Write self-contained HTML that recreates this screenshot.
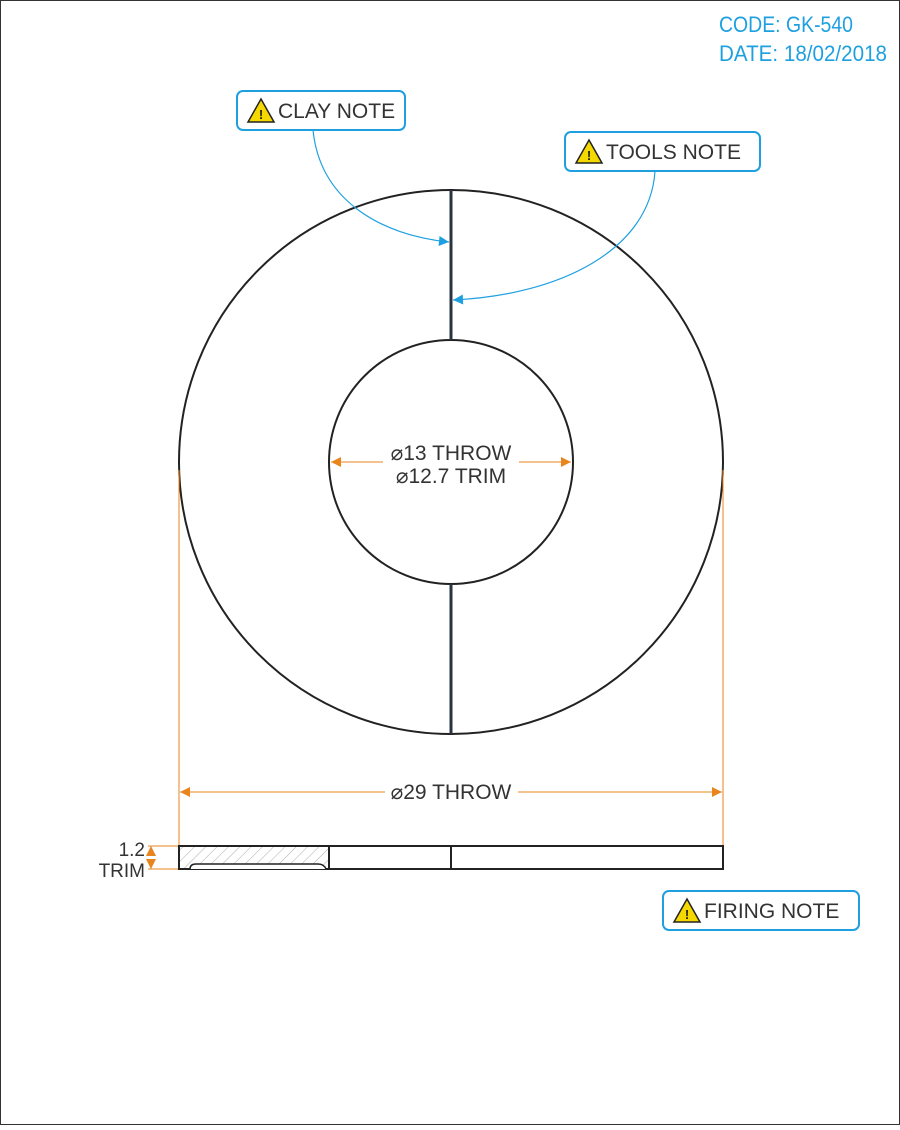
<!DOCTYPE html>
<html><head><meta charset="utf-8"><style>
body{margin:0;background:#fff}
svg text{font-family:"Liberation Sans Narrow","Liberation Sans",sans-serif}
</style></head><body>
<svg width="900" height="1125" viewBox="0 0 900 1125">
<defs>
<marker id="ob" viewBox="0 0 10 10" refX="10" refY="5" markerWidth="13" markerHeight="10" markerUnits="userSpaceOnUse" orient="auto"><path d="M0,0L10,5L0,10z" fill="#e8851c"/></marker>
<marker id="bb" viewBox="0 0 10 10" refX="10" refY="5" markerWidth="13" markerHeight="10" markerUnits="userSpaceOnUse" orient="auto"><path d="M0,0L10,5L0,10z" fill="#1ea0e0"/></marker>
<pattern id="hatch" width="8" height="8" patternUnits="userSpaceOnUse" patternTransform="rotate(45)"><line x1="0" y1="0" x2="0" y2="8" stroke="#999" stroke-width="0.8"/></pattern>
</defs>
<rect x="0.5" y="0.5" width="899" height="1124" fill="#fff" stroke="#333"/>
<g fill="#1ea0e0" font-size="22">
<text x="719" y="32" textLength="134" lengthAdjust="spacingAndGlyphs">CODE: GK-540</text>
<text x="719" y="61" textLength="168" lengthAdjust="spacingAndGlyphs">DATE: 18/02/2018</text>
</g>
<g>
<circle cx="451" cy="462" r="272" fill="none" stroke="#222" stroke-width="2"/>
<circle cx="451" cy="462" r="122" fill="none" stroke="#222" stroke-width="2"/>
<line x1="451" y1="190" x2="451" y2="340" stroke="#2a3440" stroke-width="3"/>
<line x1="451" y1="584" x2="451" y2="734" stroke="#2a3440" stroke-width="3"/>
</g>
<g stroke="#e8851c" stroke-width="1" fill="none">
<line x1="383" y1="462" x2="331" y2="462" marker-end="url(#ob)"/>
<line x1="519" y1="462" x2="571" y2="462" marker-end="url(#ob)"/>
</g>
<text x="451" y="460" text-anchor="middle" font-size="21" fill="#333">⌀13 THROW</text>
<text x="451" y="483" text-anchor="middle" font-size="21" fill="#333">⌀12.7 TRIM</text>
<g stroke="#e8851c" stroke-width="1" fill="none">
<line x1="179" y1="470" x2="179" y2="846"/>
<line x1="723" y1="470" x2="723" y2="846"/>
<line x1="385" y1="792" x2="180" y2="792" marker-end="url(#ob)"/>
<line x1="518" y1="792" x2="722" y2="792" marker-end="url(#ob)"/>
<line x1="148" y1="846" x2="179" y2="846"/>
<line x1="148" y1="869" x2="179" y2="869"/>
<line x1="151" y1="856" x2="151" y2="846" marker-end="url(#ob)"/>
<line x1="151" y1="859" x2="151" y2="869" marker-end="url(#ob)"/>
</g>
<text x="451" y="799" text-anchor="middle" font-size="21" fill="#333">⌀29 THROW</text>
<text x="145" y="856" text-anchor="end" font-size="19" fill="#333">1.2</text>
<text x="145" y="877" text-anchor="end" font-size="19" fill="#333">TRIM</text>
<g>
<rect x="179" y="846" width="150" height="23" fill="url(#hatch)"/>
<rect x="179" y="846" width="544" height="23" fill="none" stroke="#222" stroke-width="2"/>
<line x1="329" y1="846" x2="329" y2="869" stroke="#222" stroke-width="2"/>
<line x1="451" y1="846" x2="451" y2="869" stroke="#222" stroke-width="2"/>
<path d="M190,869 Q190,864 196,864 L318,864 Q324,864 326,869" fill="#fff" stroke="#222" stroke-width="1.5"/>
</g>
<g>
<rect x="237" y="91" width="168" height="39" rx="6" fill="#fff" stroke="#1ea0e0" stroke-width="2"/>
<path d="M261,99 L274,122 L248,122 Z" fill="#f5d800" stroke="#222" stroke-width="1.5"/>
<text x="261" y="119" text-anchor="middle" font-size="13" font-weight="bold" fill="#222">!</text>
<text x="278" y="118" font-size="21" fill="#333">CLAY NOTE</text>
</g>
<path d="M313,130 C320,200 380,235 449,242" fill="none" stroke="#1ea0e0" stroke-width="1.2" marker-end="url(#bb)"/>
<g>
<rect x="565" y="132" width="195" height="39" rx="6" fill="#fff" stroke="#1ea0e0" stroke-width="2"/>
<path d="M589,140 L602,163 L576,163 Z" fill="#f5d800" stroke="#222" stroke-width="1.5"/>
<text x="589" y="160" text-anchor="middle" font-size="13" font-weight="bold" fill="#222">!</text>
<text x="606" y="159" font-size="21" fill="#333">TOOLS NOTE</text>
</g>
<path d="M655,171 C650,250 560,295 453,300" fill="none" stroke="#1ea0e0" stroke-width="1.2" marker-end="url(#bb)"/>
<g>
<rect x="663" y="891" width="196" height="39" rx="6" fill="#fff" stroke="#1ea0e0" stroke-width="2"/>
<path d="M687,899 L700,922 L674,922 Z" fill="#f5d800" stroke="#222" stroke-width="1.5"/>
<text x="687" y="919" text-anchor="middle" font-size="13" font-weight="bold" fill="#222">!</text>
<text x="704" y="918" font-size="21" fill="#333">FIRING NOTE</text>
</g>
</svg>
</body></html>
